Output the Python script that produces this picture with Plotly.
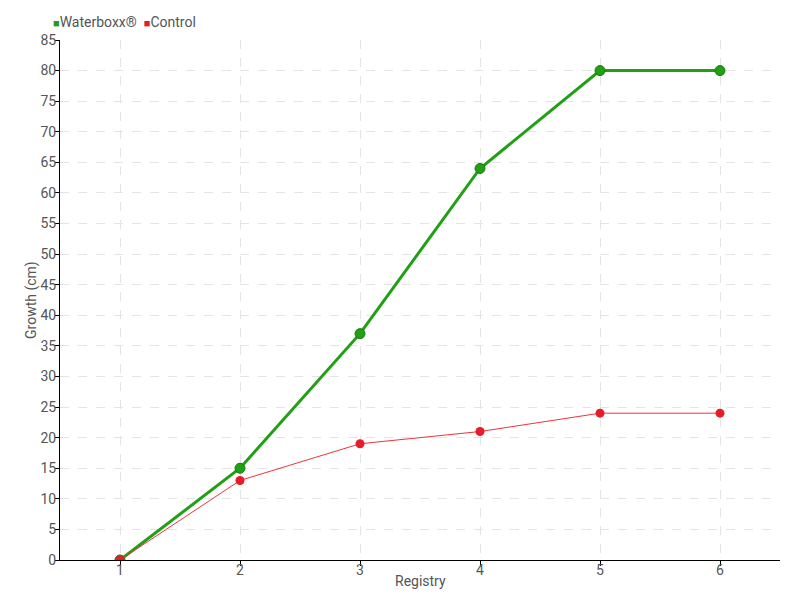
import plotly.graph_objects as go

registry = [1, 2, 3, 4, 5, 6]
waterboxx = [0, 15, 37, 64, 80, 80]
control = [0, 13, 19, 21, 24, 24]
y_ticks = list(range(0, 90, 5))

FONT = "Roboto, sans-serif"
GREEN = "#22a015"
RED = "#e81c28"
TXT = "#555555"

fig = go.Figure()
fig.add_trace(go.Scatter(
    x=registry, y=waterboxx, name="Waterboxx®", mode="lines+markers",
    line=dict(color=GREEN, width=3),
    marker=dict(color=GREEN, size=10, symbol="circle",
                line=dict(color="#1a7a10", width=1)),
    showlegend=False,
))
fig.add_trace(go.Scatter(
    x=registry, y=control, name="Control", mode="lines+markers",
    line=dict(color="#f0323c", width=1),
    marker=dict(color=RED, size=9, symbol="circle"),
    showlegend=False,
))

legend_text = (f"<span style='color:{GREEN};font-size:11px'>■</span>Waterboxx®  "
               f"<span style='color:{RED};font-size:11px'>■</span>Control")
fig.add_annotation(text=legend_text, xref="paper", yref="paper",
                   x=-0.013, y=1.0, xanchor="left", yanchor="bottom", yshift=8,
                   showarrow=False, font=dict(family=FONT, size=14, color=TXT))
fig.add_annotation(text="Registry", xref="paper", yref="paper",
                   x=0.5, y=0, xanchor="center", yanchor="middle", yshift=-21,
                   showarrow=False, font=dict(family=FONT, size=14, color=TXT))
fig.add_annotation(text="Growth (cm)", xref="paper", yref="paper", textangle=-90,
                   x=0, y=0.5, xanchor="center", yanchor="middle", xshift=-29,
                   showarrow=False, font=dict(family=FONT, size=14, color=TXT))

fig.update_layout(
    width=800, height=600,
    margin=dict(l=52, r=28, t=32, b=48, autoexpand=False),
    paper_bgcolor="white", plot_bgcolor="white",
    font=dict(family=FONT, size=14, color=TXT),
    showlegend=False,
    xaxis=dict(
        range=[0.5, 6.5], tickmode="array", tickvals=registry,
        ticktext=[str(v) for v in registry],
        showline=True, linecolor="black", linewidth=1,
        ticks="outside", ticklen=5, tickcolor="black",
        tickfont=dict(size=14, color=TXT), ticklabelstandoff=-8,
        showgrid=True, gridcolor="#e4e4e4", griddash="dash", zeroline=False,
        automargin=False,
    ),
    yaxis=dict(
        range=[0, 85], tickmode="array", tickvals=y_ticks,
        showline=True, linecolor="black", linewidth=1,
        ticks="outside", ticklen=4, tickcolor="black",
        tickfont=dict(size=14, color=TXT), ticklabelstandoff=-4,
        showgrid=True, gridcolor="#e4e4e4", griddash="dash", zeroline=False,
        automargin=False,
    ),
)

fig.write_html("out.html")
